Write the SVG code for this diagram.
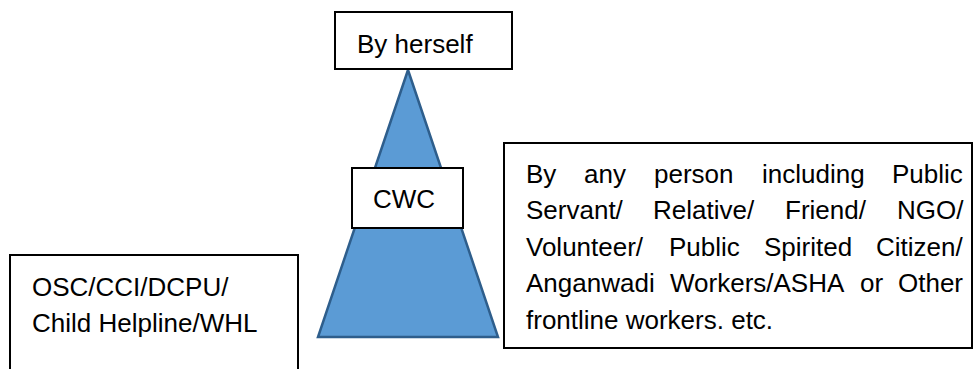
<svg xmlns="http://www.w3.org/2000/svg" width="974" height="369" viewBox="0 0 974 369">
<style>
.box{fill:#fff;stroke:#000;stroke-width:2}
.tri{fill:#5B9BD5;stroke:#2E5E8C;stroke-width:2.5;stroke-linejoin:miter}
text{font-family:"Liberation Sans",Arial,sans-serif;font-size:26px;fill:#000}
</style>
<g id="triangle">
<polygon class="tri" points="408,70 318,337 498,337"/>
</g>
<g id="connectors"></g>
<g id="by-herself">
<rect class="box" x="335" y="12" width="177" height="57"/>
<text x="357" y="53">By herself</text>
</g>
<g id="cwc">
<rect class="box" x="352" y="168" width="111" height="60"/>
<text x="373" y="208">CWC</text>
</g>
<g id="any-person">
<rect class="box" x="504" y="143" width="468" height="205"/>
<text y="183"><tspan x="526">By</tspan><tspan x="584">any</tspan><tspan x="654">person</tspan><tspan x="762">including</tspan><tspan x="892">Public</tspan></text>
<text y="219"><tspan x="526">Servant/</tspan><tspan x="653">Relative/</tspan><tspan x="785">Friend/</tspan><tspan x="897">NGO/</tspan></text>
<text y="256"><tspan x="526">Volunteer/</tspan><tspan x="669">Public</tspan><tspan x="764">Spirited</tspan><tspan x="876">Citizen/</tspan></text>
<text y="292"><tspan x="526">Anganwadi</tspan><tspan x="670">Workers/ASHA</tspan><tspan x="860">or</tspan><tspan x="898">Other</tspan></text>
<text x="526" y="329">frontline workers. etc.</text>
</g>
<g id="osc">
<rect class="box" x="10" y="255" width="288" height="130"/>
<text x="32" y="296">OSC/CCI/DCPU/</text>
<text x="32" y="332">Child Helpline/WHL</text>
</g>
</svg>
